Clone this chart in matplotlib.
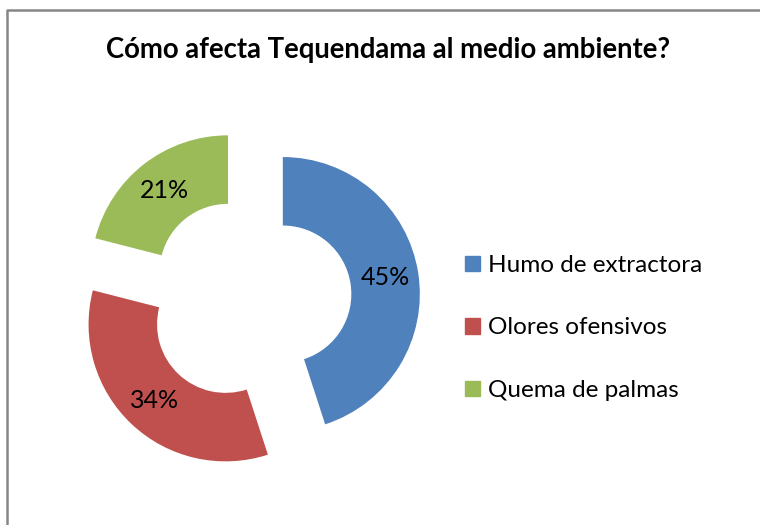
import matplotlib
matplotlib.use('Agg')
import matplotlib.pyplot as plt
import matplotlib.patches as mpatches
from matplotlib.lines import Line2D

# data
labels = ['Humo de extractora', 'Olores ofensivos', 'Quema de palmas']
values = [45, 34, 21]
colors = ['#4F81BD', '#C0504D', '#9BBB59']
explode = [0.25, 0.25, 0.25]

plt.rcParams['font.family'] = ['Lato', 'DejaVu Sans']

W, H = 760, 525
fig = plt.figure(figsize=(W / 100, H / 100), dpi=100)

# donut centre ~ (249, 299) px from top-left, radius ~137 px
R_px = 137.0
cx, cy = 249.0, 299.4
lim = 1.6
side = 2 * lim * R_px
ax = fig.add_axes([(cx - side / 2) / W, (H - cy - side / 2) / H, side / W, side / H])

wedges, texts, autotexts = ax.pie(values, colors=colors, explode=explode,
                                  startangle=90, counterclock=False,
                                  autopct='%1.0f%%', pctdistance=0.76,
                                  wedgeprops=dict(width=0.5, linewidth=0),
                                  textprops=dict(fontsize=18, color='black'))
ax.set_xlim(-lim, lim)
ax.set_ylim(-lim, lim)
ax.set_aspect('equal')
ax.axis('off')

fig.text(388 / W, 1 - 50 / H, 'Cómo afecta Tequendama al medio ambiente?',
         ha='center', va='center', fontsize=19.8, fontweight='bold')

handles = [mpatches.Patch(color=c, label=l) for c, l in zip(colors, labels)]
fig.legend(handles=handles, loc='center left', bbox_to_anchor=(465 / W, 1 - 328 / H),
           frameon=False, fontsize=17.5, handlelength=0.6, handleheight=0.6,
           handletextpad=0.33, labelspacing=1.7, borderpad=0, borderaxespad=0)

# chart area border: only top and left edges are inside the picture
x0, y0 = 6.5 / W, 1 - 9.5 / H
fig.lines.append(Line2D([x0, x0, 1.0], [0.0, y0, y0], transform=fig.transFigure,
                        color='#868686', linewidth=1.8))

fig.savefig('out.png', dpi=100, facecolor='white')
